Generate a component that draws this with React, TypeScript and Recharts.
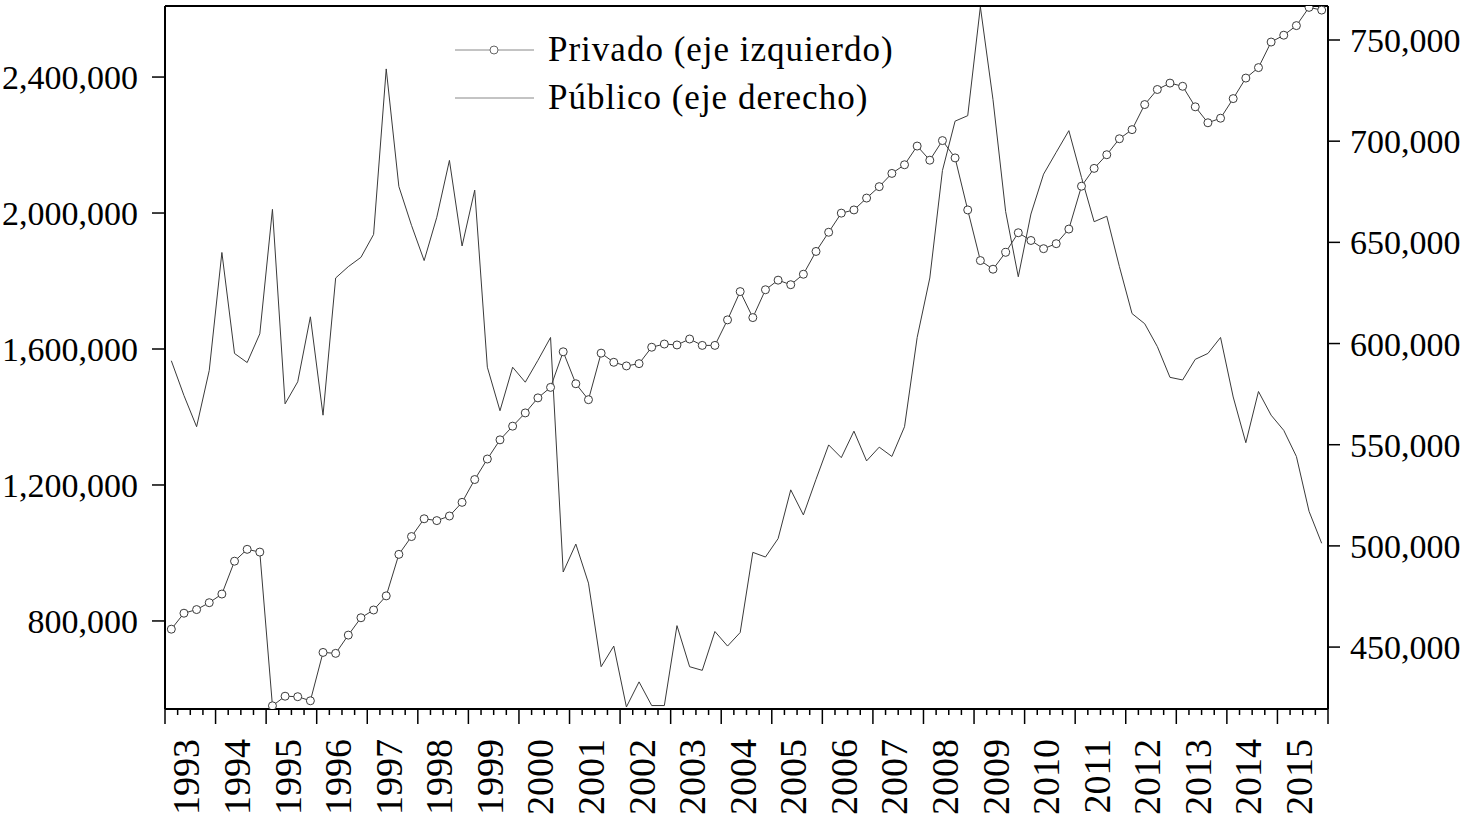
import React from 'react';
import { LineChart, Line, XAxis, YAxis, Legend } from 'recharts';

const years = ['1993','1994','1995','1996','1997','1998','1999','2000','2001','2002','2003','2004','2005','2006','2007','2008','2009','2010','2011','2012','2013','2014','2015'];
const quarters = ['Q1', 'Q2', 'Q3', 'Q4'];

const privado = [
  775800, 822800, 833500, 853700,
  879200, 975800, 1010700, 1002600,
  550400, 578600, 577200, 565200,
  707400, 704700, 758400, 809400,
  832200, 873800, 995900, 1048300,
  1100600, 1095200, 1108700, 1148900,
  1216000, 1276400, 1332800, 1373000,
  1412000, 1456200, 1487100, 1591800,
  1497800, 1450900, 1587800, 1560900,
  1550200, 1556900, 1605200, 1614600,
  1611900, 1629400, 1610600, 1610600,
  1685700, 1768900, 1692400, 1774300,
  1802500, 1789100, 1819900, 1887000,
  1943400, 1999700, 2009100, 2044000,
  2077600, 2116500, 2142000, 2197000,
  2155400, 2213100, 2162100, 2009100,
  1860200, 1834700, 1884300, 1942000,
  1919200, 1895100, 1909800, 1952800,
  2078900, 2131300, 2171500, 2218500,
  2245300, 2319100, 2363400, 2382200,
  2372800, 2312400, 2265500, 2278900,
  2336600, 2397000, 2427800, 2503000,
  2523100, 2551300, 2605000, 2597000,
];

const publico = [
  591500, 574300, 558900, 586700,
  645000, 595100, 590600, 604800,
  666300, 570200, 581100, 613200,
  564600, 632400, 638000, 642600,
  653900, 735700, 677600, 658400,
  641000, 662400, 690500, 648200,
  675800, 588300, 566800, 588300,
  580900, 591700, 603000, 487100,
  500900, 481600, 440300, 450500,
  420400, 432800, 421100, 421100,
  460600, 440300, 438500, 457700,
  450500, 457200, 496800, 494500,
  503600, 527700, 515300, 532900,
  549900, 543600, 556700, 542000,
  548800, 544200, 558900, 603000,
  632400, 685500, 709900, 712600,
  766400, 720500, 665200, 633000,
  664000, 683700, 694500, 705200,
  682100, 660200, 662900, 638000,
  614800, 609800, 598500, 583300,
  582000, 592200, 595100, 603000,
  573600, 551000, 576300, 564600,
  557100, 544200, 517100, 501300,
];

const leftTicks = [800000, 1200000, 1600000, 2000000, 2400000];
const rightTicks = [450000, 500000, 550000, 600000, 650000, 700000, 750000];
const leftDomain = [541000, 2609000];
const rightDomain = [419400, 766800];
const seriesNames = ['Privado (eje izquierdo)', 'Público (eje derecho)'];

const data = privado.map((v, i) => ({
  t: i,
  period: years[Math.floor(i / 4)] + quarters[i % 4],
  privado: v,
  publico: publico[i],
}));

const boundaryTicks = Array.from({ length: privado.length + 1 }, (_, i) => i - 0.5);
const yearTicks = years.map((_, k) => 4 * k + 1.2);

const FONT = '"Liberation Serif", "Times New Roman", serif';
const LINE = '#3a3a3a';

const fmt = (v: number) => v.toLocaleString('en-US');

const QuarterTick = (props: any) => {
  const { x, y, payload } = props;
  const major = (payload.value + 0.5) % 4 === 0;
  return <line x1={x} x2={x} y1={y} y2={y + (major ? 15 : 6)} stroke="#000" strokeWidth={1.5} />;
};

const YearTick = (props: any) => {
  const { x, y, payload } = props;
  const label = years[Math.round((payload.value - 1.2) / 4)];
  return (
    <text
      transform={`translate(${x},${y + 10}) rotate(-90)`}
      textAnchor="end"
      dominantBaseline="central"
      fontFamily={FONT}
      fontSize={38}
      fill="#000"
    >
      {label}
    </text>
  );
};

const LegendContent = () => (
  <div style={{ fontFamily: FONT, fontSize: 35, letterSpacing: 1, color: '#000' }}>
    {seriesNames.map((name, idx) => (
      <div key={name} style={{ display: 'flex', alignItems: 'center', height: 48 }}>
        <svg width={98} height={48} style={{ display: 'block' }}>
          <line x1={5} x2={84} y1={24} y2={24} stroke="#888" strokeWidth={1} />
          {idx === 0 && <circle cx={44} cy={24} r={4} fill="#fff" stroke="#666" strokeWidth={1} />}
        </svg>
        <span style={{ whiteSpace: 'nowrap', lineHeight: '48px' }}>{name}</span>
      </div>
    ))}
  </div>
);

export default function App() {
  return (
    <div style={{ position: 'absolute', left: 0, top: 0, background: '#fff' }}>
      <LineChart width={1474} height={820} data={data} margin={{ top: 0, right: 0, bottom: 0, left: 0 }}>
        <XAxis
          xAxisId="top"
          orientation="top"
          type="number"
          dataKey="t"
          domain={[-0.5, 91.5]}
          height={6}
          tick={false}
          tickLine={false}
          axisLine={{ stroke: '#000', strokeWidth: 2 }}
        />
        <XAxis
          type="number"
          dataKey="t"
          domain={[-0.5, 91.5]}
          ticks={boundaryTicks}
          interval={0}
          height={20}
          tickSize={0}
          tickMargin={0}
          tickLine={false}
          tick={<QuarterTick />}
          axisLine={{ stroke: '#000', strokeWidth: 2 }}
        />
        <XAxis
          xAxisId="years"
          type="number"
          dataKey="t"
          domain={[-0.5, 91.5]}
          ticks={yearTicks}
          interval={0}
          height={91}
          tickSize={0}
          tickMargin={0}
          tickLine={false}
          axisLine={false}
          tick={<YearTick />}
        />
        <YAxis
          yAxisId="left"
          orientation="left"
          width={165}
          domain={leftDomain}
          ticks={leftTicks}
          allowDataOverflow
          interval={0}
          tickFormatter={fmt}
          tickSize={13}
          tickMargin={14}
          tick={{ fontSize: 34, fontFamily: FONT, fill: '#000' }}
          tickLine={{ stroke: '#000', strokeWidth: 1.5 }}
          axisLine={{ stroke: '#000', strokeWidth: 2 }}
        />
        <YAxis
          yAxisId="right"
          orientation="right"
          width={146}
          domain={rightDomain}
          ticks={rightTicks}
          allowDataOverflow
          interval={0}
          tickFormatter={fmt}
          tickSize={12}
          tickMargin={10}
          tick={{ fontSize: 34, fontFamily: FONT, fill: '#000' }}
          tickLine={{ stroke: '#000', strokeWidth: 1.5 }}
          axisLine={{ stroke: '#000', strokeWidth: 2 }}
        />
        <Legend
          layout="vertical"
          align="center"
          verticalAlign="middle"
          content={<LegendContent />}
          wrapperStyle={{ left: 450, top: 26, width: 480 }}
        />
        <Line
          yAxisId="right"
          type="linear"
          dataKey="publico"
          name={seriesNames[1]}
          stroke={LINE}
          strokeWidth={1}
          dot={false}
          isAnimationActive={false}
        />
        <Line
          yAxisId="left"
          type="linear"
          dataKey="privado"
          name={seriesNames[0]}
          stroke={LINE}
          strokeWidth={1}
          dot={{ r: 4, fill: '#fff', stroke: LINE, strokeWidth: 1 }}
          isAnimationActive={false}
        />
      </LineChart>
    </div>
  );
}
